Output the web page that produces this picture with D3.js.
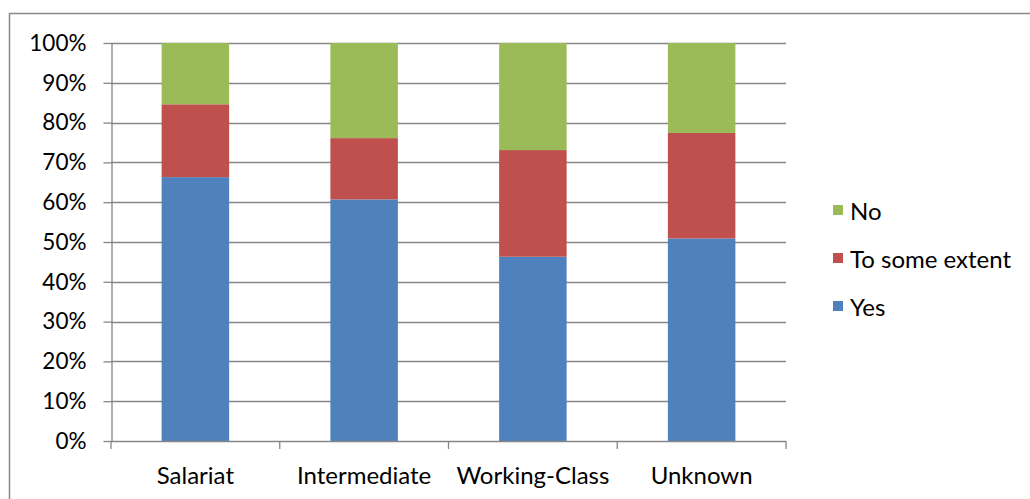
<!DOCTYPE html>
<html>
<head>
<meta charset="utf-8">
<script src="https://cdn.jsdelivr.net/npm/d3@7"></script>
<style>
  html, body { margin: 0; padding: 0; background: #fff; }
  svg text { font-family: Lato, "Open Sans", sans-serif; fill: #000; }
</style>
</head>
<body>
<svg id="chart" width="1030" height="499"></svg>
<script>
const categories = ['Salariat', 'Intermediate', 'Working-Class', 'Unknown'];
const yesValues = [66.3, 60.7, 46.3, 50.9];
const someValues = [18.3, 15.4, 26.8, 26.5];
const noValues = [15.4, 23.9, 26.9, 22.6];
const seriesNames = ['Yes', 'To some extent', 'No'];
const yTicks = [0, 10, 20, 30, 40, 50, 60, 70, 80, 90, 100];

const colors = { 'Yes': '#4f81bd', 'To some extent': '#c0504d', 'No': '#9bbb59' };

const svg = d3.select('#chart');
const margin = { left: 111, right: 786, top: 43, bottom: 441 };

// outer chart border (right/bottom edges run off the frame)
svg.append('rect')
  .attr('x', 9.5).attr('y', 13.5)
  .attr('width', 1100).attr('height', 600)
  .attr('fill', 'none')
  .attr('stroke', '#888').attr('stroke-width', 1.5);

const rows = categories.map((c, i) => ({
  cat: c, 'Yes': yesValues[i], 'To some extent': someValues[i], 'No': noValues[i]
}));
const stacked = d3.stack().keys(seriesNames)(rows);

const x = d3.scaleBand().domain(categories).range([margin.left, margin.right]).paddingInner(0.6).paddingOuter(0.3);
const y = d3.scaleLinear().domain([0, 100]).range([margin.bottom, margin.top]);

// gridlines
svg.append('g').selectAll('line').data(yTicks.slice(1)).enter().append('line')
  .attr('x1', margin.left).attr('x2', margin.right)
  .attr('y1', d => Math.round(y(d)) + 0.5).attr('y2', d => Math.round(y(d)) + 0.5)
  .attr('stroke', '#868686').attr('stroke-width', 1.3);

// bars
svg.append('g').selectAll('g').data(stacked).enter().append('g')
  .attr('fill', d => colors[d.key])
  .selectAll('rect').data(d => d).enter().append('rect')
  .attr('x', d => x(d.data.cat))
  .attr('width', x.bandwidth())
  .attr('y', d => y(d[1]))
  .attr('height', d => y(d[0]) - y(d[1]));

// y axis
const yAxis = svg.append('g')
  .attr('transform', `translate(${margin.left + 0.5},0)`)
  .call(d3.axisLeft(y).tickValues(yTicks).tickFormat(d => d + '%').tickSize(8).tickSizeOuter(0).tickPadding(17));
yAxis.select('.domain').attr('stroke', '#868686').attr('stroke-width', 1.3);
yAxis.selectAll('.tick line').attr('stroke', '#868686').attr('stroke-width', 1.3);
yAxis.selectAll('text').style('font-size', '22.5px').attr('fill', '#000');

// x axis
const bounds = [margin.left, ...categories.map(c => x(c) + x.bandwidth() / 2 + x.step() / 2)];
svg.append('line')
  .attr('x1', margin.left).attr('x2', margin.right)
  .attr('y1', Math.round(y(0)) + 0.5).attr('y2', Math.round(y(0)) + 0.5)
  .attr('stroke', '#868686').attr('stroke-width', 1.3);
svg.append('g').selectAll('line').data(bounds).enter().append('line')
  .attr('x1', d => d).attr('x2', d => d)
  .attr('y1', y(0)).attr('y2', y(0) + 8)
  .attr('stroke', '#868686').attr('stroke-width', 1.3);
svg.append('g').selectAll('text').data(categories).enter().append('text')
  .attr('x', d => x(d) + x.bandwidth() / 2)
  .attr('y', 484)
  .attr('text-anchor', 'middle')
  .style('font-size', '24px')
  .text(d => d);

// legend
const legendOrder = ['No', 'To some extent', 'Yes'];
const legend = svg.append('g').selectAll('g').data(legendOrder).enter().append('g')
  .attr('transform', (d, i) => `translate(833,${212 + i * 48})`);
legend.append('rect')
  .attr('x', 0).attr('y', -7).attr('width', 10).attr('height', 10)
  .attr('fill', d => colors[d]);
legend.append('text')
  .attr('x', 17).attr('y', 8)
  .style('font-size', '24px')
  .text(d => d);
</script>
</body>
</html>
